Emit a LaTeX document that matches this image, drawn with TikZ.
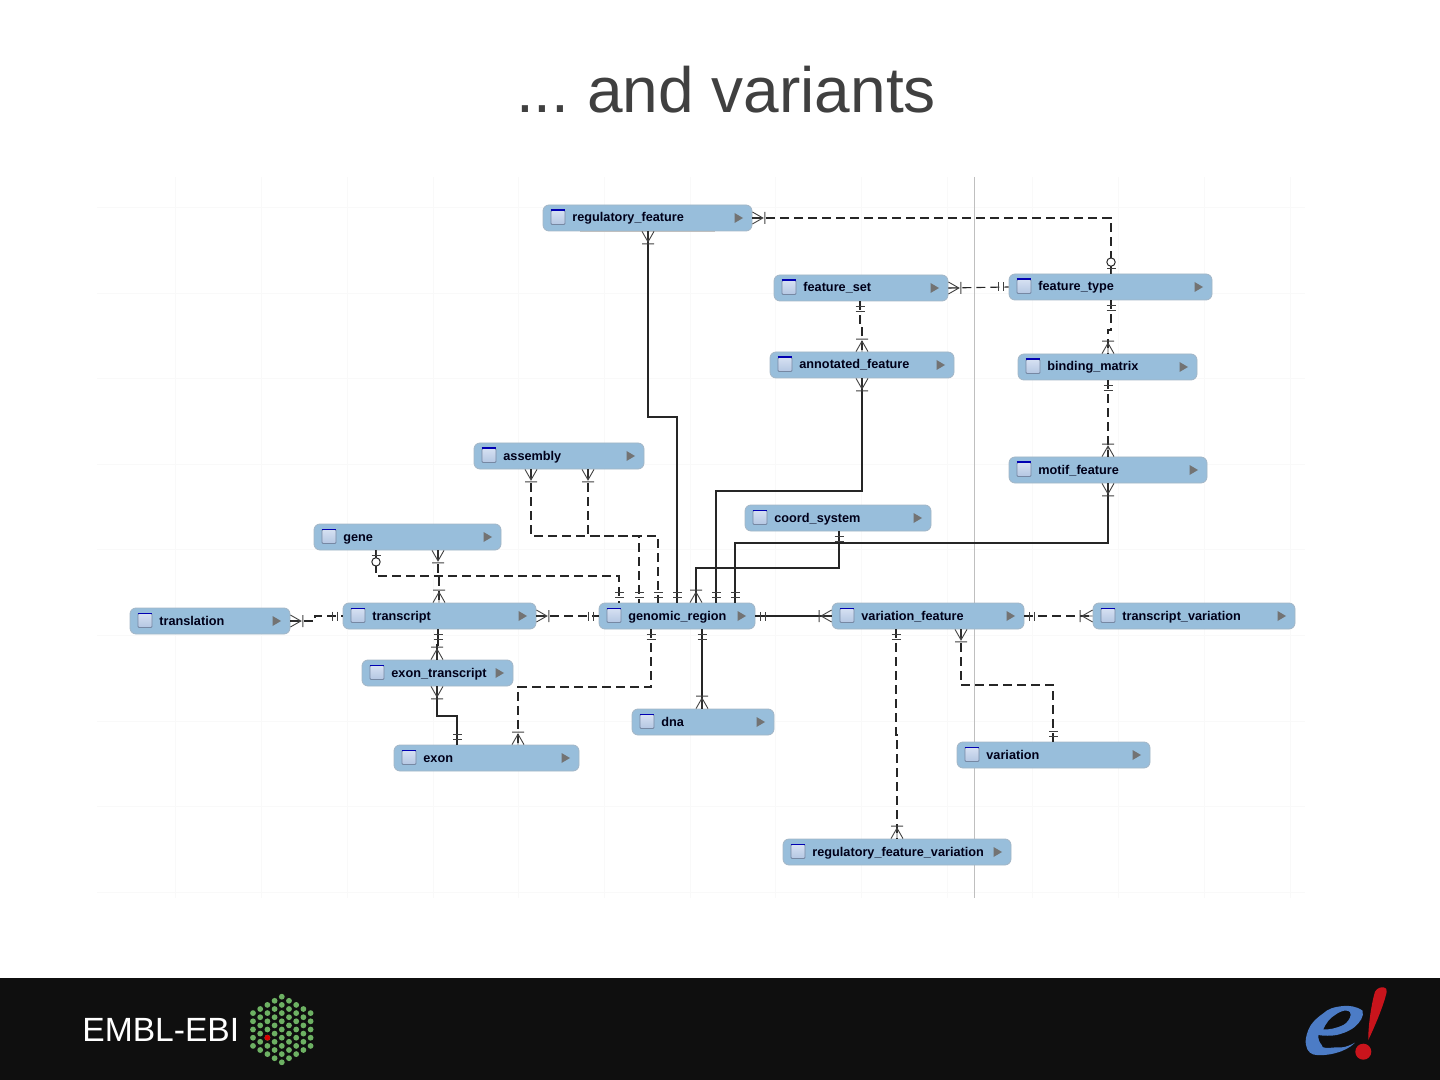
\documentclass[tikz,border=0pt]{standalone}
\usepackage{fontspec}
\setmainfont{Liberation Sans}
\usetikzlibrary{positioning, calc}
\definecolor{tablefill}{HTML}{98BEDB}
\definecolor{tableedge}{HTML}{A3B6C6}
\definecolor{iconedge}{HTML}{7688A3}
\definecolor{icontop}{HTML}{D6E1F2}
\definecolor{iconbottom}{HTML}{B4C6E2}
\definecolor{hexgreen}{HTML}{6DB163}
\definecolor{barblack}{HTML}{0F0F0F}
\definecolor{titlegray}{HTML}{404040}
\definecolor{logoblue}{HTML}{4C7CC6}
\definecolor{logored}{HTML}{C9141C}
\tikzset{
    entity/.style={draw=tableedge, fill=tablefill, rounded corners=3pt, inner sep=0pt, minimum height=13pt},
    entityicon/.style={draw=iconedge, top color=icontop, bottom color=iconbottom, rounded corners=0.5pt, inner sep=0pt, minimum size=7pt},
    entitylabel/.style={anchor=base west, inner sep=0pt, font=\bfseries\fontsize{6.35}{7}\selectfont, text=black!90!blue},
    rel/.style={line width=0.55pt, black!85},
    nonid/.style={rel, dash pattern=on 4.5pt off 2.5pt},
    %the ends of a connector, drawn outward from the table edge
    crow/.pic={
        \draw[solid, line width=0.45pt, black!75] (0,6) -- (10.5,0) -- (0,-6) (0,0) -- (10.5,0) (12.5,6) -- (12.5,-6);
    },
    ticks/.pic={
        \draw[solid, line width=0.5pt, black!75] (5,4.5) -- (5,-4.5) (10,4.5) -- (10,-4.5);
    },
    ring/.pic={
        \draw[solid, line width=0.5pt, black!75] (0,0) -- (5,0) (5,4.5) -- (5,-4.5);
        \draw[solid, line width=0.5pt, black!85, fill=white] (11.5,0) circle (4.2);
    }
}
\begin{document}
\begin{tikzpicture}[x=0.5pt, y=-0.5pt]
    \useasboundingbox (0,0) rectangle (1440,1080);
    %grid behind the tables
    \foreach \gy in {207,293,378,464,549,635,721,806,892}
        \draw[gray!5] (97,\gy) -- (1305,\gy);
    \foreach \gx in {175,261,347,433,518,604,690,775,861,947,1032,1118,1204,1290}
        \draw[gray!5] (\gx,177) -- (\gx,898);
    \draw[gray!50, line width=0.5pt] (974,177) -- (974,898);
    %title
    \node (title) at (726,90) {\fontsize{32}{36}\selectfont\frenchspacing\color{titlegray}... and variants};
    %tables: name, left, right, top, label
    \foreach \nm/\lft/\rgt/\tp/\lab in {
        regfeature/543/752/205/regulatory\_feature,
        featureset/774/948/275/feature\_set,
        featuretype/1009/1212/274/feature\_type,
        annotfeature/770/954/352/annotated\_feature,
        bindmatrix/1018/1197/354/binding\_matrix,
        motiffeature/1009/1207/457/motif\_feature,
        assembly/474/644/443/assembly,
        coordsystem/745/931/505/coord\_system,
        gene/314/501/524/gene,
        translation/130/290/608/translation,
        transcript/343/536/603/transcript,
        genomicregion/599/755/603/genomic\_region,
        variationfeature/832/1024/603/variation\_feature,
        transcriptvar/1093/1295/603/transcript\_variation,
        exontranscript/362/513/660/exon\_transcript,
        dna/632/774/709/dna,
        exon/394/579/745/exon,
        variation/957/1150/742/variation,
        regfeaturevar/783/1011/839/regulatory\_feature\_variation}{
        \node[entity, minimum width={(\rgt-\lft)*0.5pt}] (\nm) at ({(\lft+\rgt)/2},{\tp+13}) {};
        \node[entityicon] (\nm-icon) at ({\lft+15},{\tp+12.5}) {};
        \draw[blue!70!black, line width=0.6pt] (\nm-icon.north west) -- (\nm-icon.north east);
        \node[entitylabel] (\nm-label) at ({\lft+29},{\tp+17}) {\lab};
        \fill[gray!90!black] ({\rgt-17.5},{\tp+8}) -- ({\rgt-17.5},{\tp+18}) -- ({\rgt-9},{\tp+13}) -- cycle;
    }
    \draw[gray!50, line width=0.5pt] (580,232) -- (715,232);
    %connectors to genomic_region
    \draw[rel] (648,0 |- regfeature.south) pic[rotate=-90]{crow} -- (648,417) -- (677,417) -- (677,0 |- genomicregion.north) pic[rotate=90]{ticks};
    \draw[rel] (862,0 |- annotfeature.south) pic[rotate=-90]{crow} -- (862,491) -- (716,491) -- (716,0 |- genomicregion.north) pic[rotate=90]{ticks};
    \draw[rel] (1108,0 |- motiffeature.south) pic[rotate=-90]{crow} -- (1108,543) -- (735,543) -- (735,0 |- genomicregion.north) pic[rotate=90]{ticks};
    \draw[rel] (839,0 |- coordsystem.south) pic[rotate=-90]{ticks} -- (839,568) -- (696,568) -- (696,0 |- genomicregion.north) pic[rotate=90]{crow};
    \draw[nonid] (531,0 |- assembly.south) pic[rotate=-90]{crow} -- (531,536) -- (639,536) -- (639,0 |- genomicregion.north) pic[rotate=90]{ticks};
    \draw[nonid] (588,0 |- assembly.south) pic[rotate=-90]{crow} -- (588,536) -- (658,536) -- (658,0 |- genomicregion.north) pic[rotate=90]{ticks};
    \draw[nonid] (376,0 |- gene.south) -- (376,576) -- (619,576) -- (619,0 |- genomicregion.north) pic[rotate=90]{ticks};
    \pic[rotate=-90] at (376,0 |- gene.south) {ring};
    \draw[nonid] (transcript.east) pic{crow} -- (genomicregion.west) pic[rotate=180]{ticks};
    \draw[nonid] (651,0 |- genomicregion.south) pic[rotate=-90]{ticks} -- (651,687) -- (518,687) -- (518,0 |- exon.north) pic[rotate=90]{crow};
    \draw[rel] (702,0 |- genomicregion.south) pic[rotate=-90]{ticks} -- (702,0 |- dna.north) pic[rotate=90]{crow};
    \draw[rel] (genomicregion.east) pic{ticks} -- (variationfeature.west) pic[rotate=180]{crow};
    %upper right tables
    \draw[nonid] (regfeature.east) pic{crow} -- (1111,218) -- (1111,0 |- featuretype.north);
    \pic[rotate=90] at (1111,0 |- featuretype.north) {ring};
    \draw[nonid] (featureset.east) pic{crow} -- (featuretype.west) pic[rotate=180]{ticks};
    \draw[nonid] (860,0 |- featureset.south) pic[rotate=-90]{ticks} -- (860,325) -| (862,0 |- annotfeature.north) pic[rotate=90]{crow};
    \draw[nonid] (1111,0 |- featuretype.south) pic[rotate=-90]{ticks} -- (1111,330) -| (1108,0 |- bindmatrix.north) pic[rotate=90]{crow};
    \draw[nonid] (1108,0 |- bindmatrix.south) pic[rotate=-90]{ticks} -- (1108,0 |- motiffeature.north) pic[rotate=90]{crow};
    %left tables
    \draw[nonid] (438,0 |- gene.south) pic[rotate=-90]{crow} -- (438,576) -| (439,0 |- transcript.north) pic[rotate=90]{crow};
    \draw[nonid] (translation.east) pic{crow} -- (315,621) |- (transcript.west) pic[rotate=180]{ticks};
    \draw[rel] (438,0 |- transcript.south) pic[rotate=-90]{ticks} -- (438,645) -| (437,0 |- exontranscript.north) pic[rotate=90]{crow};
    \draw[rel] (437,0 |- exontranscript.south) pic[rotate=-90]{crow} -- (437,716) -- (457,716) -- (457,0 |- exon.north) pic[rotate=90]{ticks};
    %lower right tables
    \draw[nonid] (variationfeature.east) pic{ticks} -- (transcriptvar.west) pic[rotate=180]{crow};
    \draw[nonid] (896,0 |- variationfeature.south) pic[rotate=-90]{ticks} -- (896,735) -| (897,0 |- regfeaturevar.north) pic[rotate=90]{crow};
    \draw[nonid] (961,0 |- variationfeature.south) pic[rotate=-90]{crow} -- (961,685) -- (1053,685) -- (1053,0 |- variation.north) pic[rotate=90]{ticks};
    %footer band
    \fill[barblack] (0,978) rectangle (1440,1080);
    \node[anchor=west, inner sep=0pt, text=white] (embl) at (82,1029.5) {\fontsize{16.8}{20}\selectfont EMBL-EBI};
    %hexagon of dots
    \foreach \col/\ndots in {0/5,1/6,2/7,3/8,4/9,5/8,6/7,7/6,8/5}
        \foreach \row in {1,...,\ndots}
            \fill[hexgreen] ({253+7.2*\col},{1029.5+8.2*(\row-(\ndots+1)/2)}) circle (2.9);
    \fill[red!85!black] (267.4,1037.7) circle (2.9);
    %e! logo
    \fill[logoblue, even odd rule] (1362.7,1010.7) .. controls (1356,1006) and (1349,1005.5) .. (1343.3,1006)
        .. controls (1333,1007) and (1328,1009) .. (1323.3,1013.3)
        .. controls (1315,1019) and (1310,1025) .. (1308.3,1030)
        .. controls (1306,1036) and (1305,1041) .. (1306,1045)
        .. controls (1307,1052) and (1312,1055) .. (1316.7,1055)
        .. controls (1326,1056) and (1345,1053) .. (1355,1042.7)
        .. controls (1347,1047) and (1342,1048) .. (1336.7,1047.3)
        .. controls (1327,1048) and (1322,1049) .. (1321.7,1045)
        .. controls (1319,1042) and (1318,1038) .. (1318.3,1035)
        .. controls (1324,1036) and (1331,1036) .. (1336.7,1035)
        .. controls (1345,1033) and (1351,1030) .. (1355,1026.7)
        .. controls (1360,1022) and (1364,1017) .. (1362.7,1010.7) -- cycle
        (1323.3,1029.3) .. controls (1326,1023) and (1330,1018) .. (1335,1015)
        .. controls (1339,1012) and (1344,1010) .. (1346.7,1010.7)
        .. controls (1350,1011) and (1351,1013) .. (1350.7,1015)
        .. controls (1350,1019) and (1347,1023) .. (1343.3,1025)
        .. controls (1337,1028) and (1329,1030) .. (1323.3,1029.3) -- cycle;
    \fill[logored] (1375,991.7) .. controls (1377,988) and (1381,987) .. (1383.3,987.3)
        .. controls (1386,987.5) and (1387,989) .. (1386.7,991.7)
        .. controls (1384,1005) and (1374,1028) .. (1368.3,1040)
        .. controls (1368,1028) and (1371,1005) .. (1375,991.7) -- cycle;
    \fill[logored] (1363.3,1051.7) circle (8);
\end{tikzpicture}
\end{document}
